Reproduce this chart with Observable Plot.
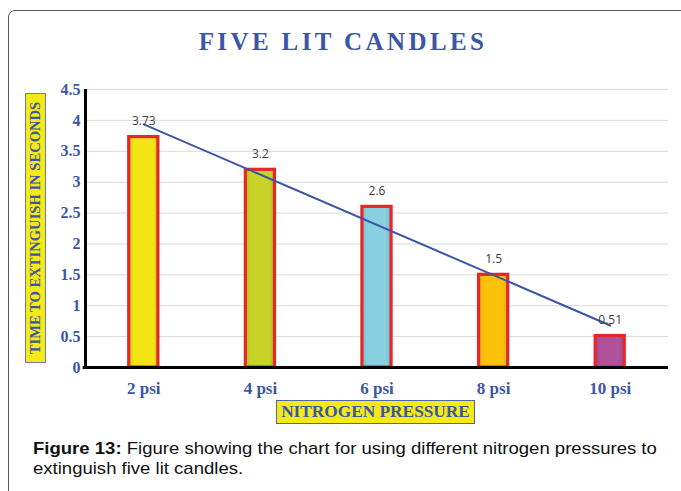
<!DOCTYPE html>
<html>
<head>
<meta charset="utf-8">
<script src="https://cdn.jsdelivr.net/npm/d3@7"></script>
<script src="https://cdn.jsdelivr.net/npm/@observablehq/plot@0.6"></script>
<style>
  html, body { margin: 0; padding: 0; background: #fff; width: 681px; height: 491px; overflow: hidden; }
  #frame { position: absolute; left: 8px; top: 10px; width: 720px; height: 520px; border: 1.5px solid #555; border-radius: 7px; box-sizing: border-box; }
  #title { position: absolute; left: 0; width: 686px; top: 28px; text-align: center; font-family: "Liberation Serif", serif; font-weight: bold; font-size: 25px; letter-spacing: 3.4px; color: #3b56a6; }
  #chart { position: absolute; left: 0; top: 0; }
  #ytitle { position: absolute; left: 25px; top: 93px; width: 270px; height: 21px; transform-origin: 0 0; transform: translate(0, 270px) rotate(-90deg); background: #f5ea14; border: 1.5px solid #6b7bb0; box-sizing: border-box; font-family: "Liberation Serif", serif; font-weight: bold; font-size: 14.6px; color: #3b56a6; text-align: center; line-height: 19px; white-space: nowrap; }
  #xtitle { position: absolute; left: 276px; top: 400px; width: 199px; height: 24px; background: #f5ea14; border: 1.5px solid #4f64aa; box-sizing: border-box; font-family: "Liberation Serif", serif; font-weight: bold; font-size: 17.3px; color: #3b56a6; text-align: center; line-height: 22px; white-space: nowrap; }
  #caption { position: absolute; left: 33px; top: 439px; width: 595px; transform-origin: 0 0; transform: scaleX(1.09); font-family: "Liberation Sans", Arial, sans-serif; font-size: 17px; line-height: 20px; color: #111; }
</style>
</head>
<body>
<div id="frame"></div>
<div id="title">FIVE LIT CANDLES</div>
<div id="chart"></div>
<div id="ytitle">TIME TO EXTINGUISH IN SECONDS</div>
<div id="xtitle">NITROGEN PRESSURE</div>
<div id="caption"><b>Figure 13:</b> Figure showing the chart for using different nitrogen pressures to extinguish five lit candles.</div>
<script>
const categories = ["2 psi", "4 psi", "6 psi", "8 psi", "10 psi"];
const times = [3.73, 3.2, 2.6, 1.5, 0.51];
const valueLabels = ["3.73", "3.2", "2.6", "1.5", "0.51"];
const barColors = ["#f3e515", "#c9d227", "#88d0e0", "#fcc20b", "#b0519c"];
const yTicks = [0, 0.5, 1, 1.5, 2, 2.5, 3, 3.5, 4, 4.5];

const data = categories.map((c, k) => ({ i: k + 1, cat: c, v: times[k], label: valueLabels[k], color: barColors[k] }));
const blue = "#3b56a6";
const serif = "Liberation Serif, Times New Roman, serif";

const chart = Plot.plot({
  width: 681,
  height: 430,
  marginLeft: 85,
  marginRight: 13,
  marginTop: 89,
  marginBottom: 63,
  x: { type: "linear", domain: [0.5, 5.5] },
  y: { domain: [0, 4.5] },
  color: { type: "identity" },
  marks: [
    Plot.ruleY(yTicks.filter(t => t > 0), { stroke: "#d9d9d9", strokeWidth: 1 }),
    Plot.rect(data, {
      x1: d => d.i - 0.125, x2: d => d.i + 0.125, y1: 0, y2: "v",
      fill: d => `url(#bargrad${d.i})`, stroke: "#e8262a", strokeWidth: 3.2
    }),
    Plot.linearRegressionY(data, { x: "i", y: "v", stroke: "#3a55a5", strokeWidth: 2, ci: 0 }),
    Plot.text(data, { x: "i", y: "v", text: "label", dy: -16, fill: "#404040", fontSize: 12, fontFamily: "Open Sans, sans-serif" }),
    Plot.ruleX([0.5], { y1: 0, y2: 4.5, stroke: "#000", strokeWidth: 3 }),
    Plot.ruleY([0], { x1: 0.48, x2: 5.5, stroke: "#000", strokeWidth: 3 }),
    Plot.axisY(yTicks, {
      tickSize: 0, tickPadding: 5, tickFormat: d => String(d), label: null,
      fill: blue, fontSize: 16, fontWeight: "bold", fontFamily: serif
    }),
    Plot.axisX([1, 2, 3, 4, 5], {
      tickSize: 0, tickPadding: 14, tickFormat: d => categories[d - 1], label: null,
      fill: blue, fontSize: 17, fontWeight: "bold", fontFamily: serif
    })
  ]
});

// subtle inner shading for bars (styling only)
const svg = d3.select(chart);
const defs = svg.insert("defs", ":first-child");
data.forEach(d => {
  const base = d3.color(d.color);
  const g = defs.append("linearGradient").attr("id", `bargrad${d.i}`).attr("x1", 0).attr("x2", 1).attr("y1", 0).attr("y2", 0);
  g.append("stop").attr("offset", "0%").attr("stop-color", base.darker(0.35));
  g.append("stop").attr("offset", "18%").attr("stop-color", base);
  g.append("stop").attr("offset", "82%").attr("stop-color", base);
  g.append("stop").attr("offset", "100%").attr("stop-color", base.darker(0.35));
});
document.getElementById("chart").appendChild(chart);
</script>
</body>
</html>
